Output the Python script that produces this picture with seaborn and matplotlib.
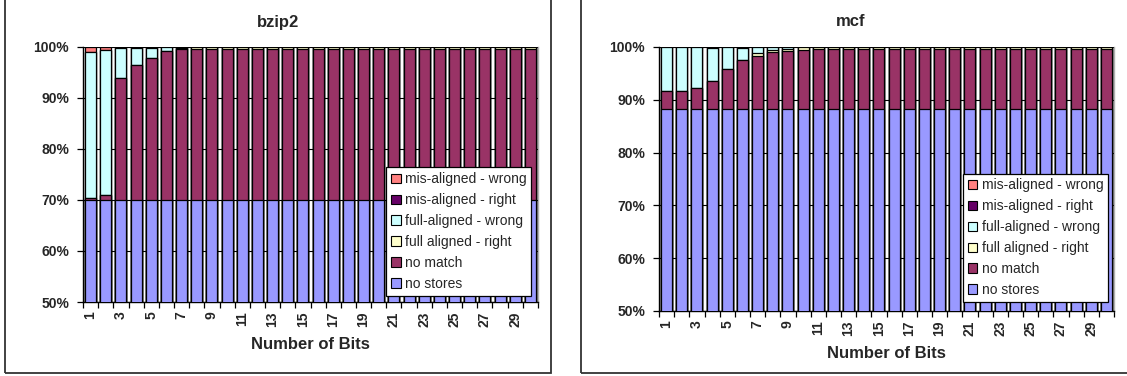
import numpy as np
import pandas as pd
import matplotlib
matplotlib.use("Agg")
import matplotlib.pyplot as plt
from matplotlib.patches import Patch, Rectangle
from matplotlib.ticker import FuncFormatter
import seaborn as sns

sns.set_style("white")
plt.rcParams["font.family"] = ["Liberation Sans", "DejaVu Sans"]

bits = list(range(1, 31))

series_names = ["no stores", "no match", "full aligned - right",
                "full-aligned - wrong", "mis-aligned - right", "mis-aligned - wrong"]
series_colors = ["#9999FF", "#993366", "#FFFFCC", "#CCFFFF", "#660066", "#FF8080"]

# bzip2 breakdown (percent of loads), bits 1..30
bzip2_no_stores = [70.0] * 30
bzip2_no_match = [0.3, 1.0, 23.9, 26.4, 27.8, 29.2, 29.6] + [29.7] * 23
bzip2_full_right = [0.0, 0.0, 0.0, 0.0, 0.0, 0.0, 0.2] + [0.3] * 23
bzip2_full_wrong = [28.7, 28.5, 5.9, 3.5, 2.0, 0.8, 0.0] + [0.0] * 23
bzip2_mis_right = [0.0, 0.0, 0.0, 0.1, 0.2, 0.0, 0.2] + [0.0] * 23
bzip2_mis_wrong = [1.0, 0.5, 0.2, 0.0, 0.0, 0.0, 0.0] + [0.0] * 23

# mcf breakdown (percent of loads), bits 1..30
mcf_no_stores = [88.2] * 30
mcf_no_match = [3.5, 3.5, 4.0, 5.4, 7.6, 9.4, 10.1, 10.9, 11.1, 11.3] + [11.4] * 20
mcf_full_right = [0.0, 0.0, 0.0, 0.0, 0.0, 0.0, 0.5, 0.4, 0.3, 0.5] + [0.4] * 20
mcf_full_wrong = [8.3, 8.3, 7.8, 6.2, 4.2, 2.3, 1.2, 0.5, 0.4, 0.0] + [0.0] * 20
mcf_mis_right = [0.0, 0.0, 0.0, 0.2, 0.0, 0.1, 0.0, 0.0, 0.0, 0.0] + [0.0] * 20
mcf_mis_wrong = [0.0] * 30

panels = [
    ("bzip2", [bzip2_no_stores, bzip2_no_match, bzip2_full_right,
               bzip2_full_wrong, bzip2_mis_right, bzip2_mis_wrong]),
    ("mcf", [mcf_no_stores, mcf_no_match, mcf_full_right,
             mcf_full_wrong, mcf_mis_right, mcf_mis_wrong]),
]

W, H = 1127, 376
fig = plt.figure(figsize=(W / 100, H / 100), dpi=100)

# axes rectangles in pixels: (left, top, right, bottom)
axes_px = [(83, 47, 538, 302), (659, 47, 1114, 311)]
box_px = [(5, -5, 551, 373), (581, -5, 1135, 373)]
title_x = [278, 851]
legend_anchor = [(0.985, 0.024), (0.987, 0.034)]

for i, (name, values) in enumerate(panels):
    l, t, r, b = axes_px[i]
    ax = fig.add_axes([l / W, 1 - b / H, (r - l) / W, (b - t) / H])

    # panel frame
    bl, bt, br, bb = box_px[i]
    fig.add_artist(Rectangle((bl / W, 1 - bb / H), (br - bl) / W, (bb - bt) / H,
                             transform=fig.transFigure, fill=False,
                             edgecolor="#333333", linewidth=1.3))

    df = pd.DataFrame({"bits": bits})
    for n, v in zip(series_names, values):
        df[n] = v
    cum = df[series_names].cumsum(axis=1)

    # draw cumulative totals from the top layer down so lower layers overlay
    for n, c in reversed(list(zip(series_names, series_colors))):
        sns.barplot(x=df["bits"], y=cum[n], color=c, saturation=1, width=0.72,
                    edgecolor="black", linewidth=0.9, ax=ax, zorder=3)

    ax.set_ylim(50, 100)
    ax.set_xlim(-0.5, 29.5)
    ax.set_yticks([50, 60, 70, 80, 90, 100])
    ax.yaxis.set_major_formatter(FuncFormatter(lambda v, p: f"{int(v)}%"))
    ax.yaxis.grid(True, color="black", linewidth=0.8, zorder=0)
    ax.set_axisbelow(True)

    ax.set_xticks(range(30))
    ax.set_xticklabels([str(x) if x % 2 == 1 else "" for x in bits],
                       rotation=90, fontsize=10, fontweight="bold")
    ax.set_xticks(np.arange(-0.5, 30, 1.0), minor=True)
    ax.tick_params(axis="x", which="major", length=0, pad=7)
    ax.tick_params(axis="x", which="minor", length=4, width=0.9,
                   direction="out", color="black", bottom=True)
    ax.tick_params(axis="y", length=4, width=0.9, direction="out",
                   color="black", left=True, pad=6)
    for lab in ax.get_yticklabels():
        lab.set_fontsize(10)
        lab.set_fontweight("bold")

    for side in ["left", "bottom"]:
        ax.spines[side].set_color("black")
        ax.spines[side].set_linewidth(1.0)
    ax.spines["top"].set_visible(False)
    ax.spines["right"].set_color("#B0B0B0")
    ax.spines["right"].set_linewidth(1.0)

    ax.set_ylabel("")
    ax.set_xlabel("Number of Bits", fontsize=12, fontweight="bold", labelpad=7)

    fig.text(title_x[i] / W, 1 - 22 / H, name, ha="center", va="center",
             fontsize=12, fontweight="bold")

    handles = [Patch(facecolor=c, edgecolor="black", linewidth=0.8, label=n)
               for n, c in zip(series_names, series_colors)][::-1]
    leg = ax.legend(handles=handles, loc="lower right",
                    bbox_to_anchor=legend_anchor[i], borderaxespad=0,
                    fontsize=10, frameon=True, fancybox=False, shadow=False,
                    edgecolor="black", framealpha=1, handlelength=0.7,
                    handleheight=0.7, handletextpad=0.3, labelspacing=0.5,
                    borderpad=0.35)
    leg.get_frame().set_linewidth(0.9)
    leg.set_zorder(10)

fig.savefig("out.png", dpi=100)
